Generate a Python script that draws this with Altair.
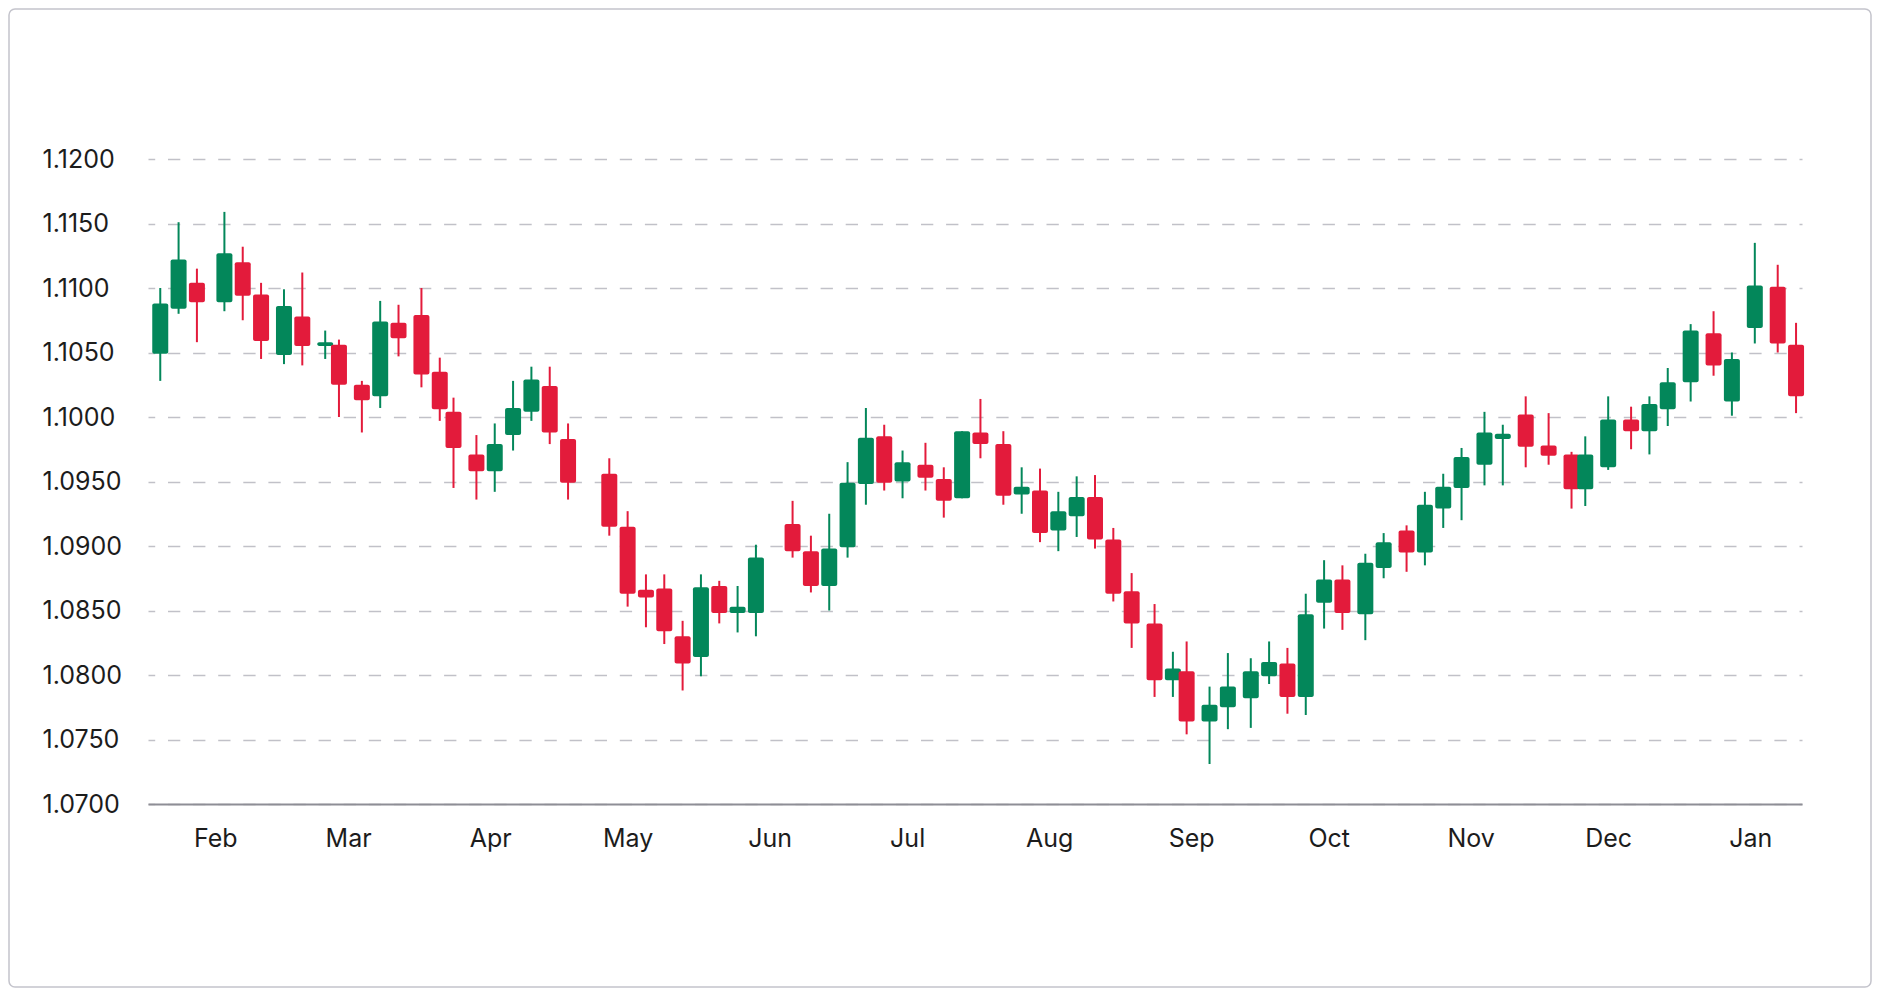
import altair as alt
import pandas as pd

# candle data (one row per candle)
dates = [
    "2024-01-20", "2024-01-24", "2024-01-28",
    "2024-02-03", "2024-02-07", "2024-02-11", "2024-02-16", "2024-02-20", "2024-02-25", "2024-02-28",
    "2024-03-04", "2024-03-08", "2024-03-12", "2024-03-17", "2024-03-21", "2024-03-24", "2024-03-29",
    "2024-04-02", "2024-04-06", "2024-04-10", "2024-04-14", "2024-04-18", "2024-04-27",
    "2024-05-01", "2024-05-05", "2024-05-09", "2024-05-13", "2024-05-17", "2024-05-21", "2024-05-25", "2024-05-29",
    "2024-06-06", "2024-06-10", "2024-06-14", "2024-06-18", "2024-06-22", "2024-06-26", "2024-06-30",
    "2024-07-05", "2024-07-09", "2024-07-13", "2024-07-17", "2024-07-22", "2024-07-26", "2024-07-30",
    "2024-08-03", "2024-08-07", "2024-08-11", "2024-08-15", "2024-08-19", "2024-08-24", "2024-08-28", "2024-08-31",
    "2024-09-05", "2024-09-09", "2024-09-14", "2024-09-18", "2024-09-22", "2024-09-26", "2024-09-30",
    "2024-10-04", "2024-10-09", "2024-10-13", "2024-10-18", "2024-10-22", "2024-10-26", "2024-10-30",
    "2024-11-04", "2024-11-08", "2024-11-13", "2024-11-18", "2024-11-23", "2024-11-26",
    "2024-12-01", "2024-12-06", "2024-12-10", "2024-12-14", "2024-12-19", "2024-12-24", "2024-12-28",
    "2025-01-02", "2025-01-07", "2025-01-11",
]
opens = [
    1.1049, 1.1084, 1.1104,
    1.1089, 1.1120, 1.1095, 1.1048, 1.1078, 1.1055, 1.1056,
    1.1025, 1.1016, 1.1073, 1.1079, 1.1035, 1.1004, 1.0971,
    1.0958, 1.0986, 1.1004, 1.1024, 1.0983, 1.0956,
    1.0915, 1.0866, 1.0867, 1.0830, 1.0814, 1.0869, 1.0848, 1.0848,
    1.0917, 1.0896, 1.0869, 1.0899, 1.0948, 1.0985, 1.0950,
    1.0963, 1.0952, 1.0937, 1.0988, 1.0979, 1.0940, 1.0943,
    1.0912, 1.0923, 1.0938, 1.0905, 1.0865, 1.0840, 1.0796, 1.0803,
    1.0764, 1.0775, 1.0782, 1.0799, 1.0809, 1.0783, 1.0856,
    1.0874, 1.0847, 1.0883, 1.0912, 1.0895, 1.0929, 1.0945,
    1.0963, 1.0983, 1.1002, 1.0978, 1.0971, 1.0944,
    1.0961, 1.0998, 1.0989, 1.1006, 1.1027, 1.1065, 1.1012,
    1.1069, 1.1101, 1.1056,
]
highs = [
    1.1100, 1.1151, 1.1115,
    1.1159, 1.1132, 1.1104, 1.1099, 1.1112, 1.1067, 1.1060,
    1.1028, 1.1090, 1.1087, 1.1100, 1.1046, 1.1015, 1.0986,
    1.0995, 1.1028, 1.1039, 1.1039, 1.0995, 1.0968,
    1.0927, 1.0878, 1.0878, 1.0842, 1.0878, 1.0873, 1.0869, 1.0901,
    1.0935, 1.0908, 1.0925, 1.0965, 1.1007, 1.0994, 1.0974,
    1.0980, 1.0961, 1.0989, 1.1014, 1.0989, 1.0961, 1.0960,
    1.0942, 1.0954, 1.0955, 1.0914, 1.0879, 1.0855, 1.0818, 1.0826,
    1.0791, 1.0817, 1.0813, 1.0826, 1.0821, 1.0863, 1.0889,
    1.0885, 1.0894, 1.0910, 1.0916, 1.0942, 1.0956, 1.0976,
    1.1004, 1.0994, 1.1016, 1.1003, 1.0973, 1.0985,
    1.1016, 1.1008, 1.1016, 1.1038, 1.1072, 1.1082, 1.1050,
    1.1135, 1.1118, 1.1073,
]
lows = [
    1.1028, 1.1080, 1.1058,
    1.1082, 1.1075, 1.1045, 1.1041, 1.1040, 1.1045, 1.1000,
    1.0988, 1.1007, 1.1047, 1.1023, 1.0997, 1.0945, 1.0936,
    1.0942, 1.0974, 1.0997, 1.0979, 1.0936, 1.0908,
    1.0853, 1.0837, 1.0824, 1.0788, 1.0799, 1.0840, 1.0833, 1.0830,
    1.0891, 1.0864, 1.0850, 1.0891, 1.0932, 1.0943, 1.0937,
    1.0943, 1.0922, 1.0937, 1.0968, 1.0932, 1.0925, 1.0903,
    1.0896, 1.0907, 1.0898, 1.0857, 1.0821, 1.0783, 1.0783, 1.0754,
    1.0731, 1.0758, 1.0759, 1.0793, 1.0770, 1.0769, 1.0836,
    1.0835, 1.0827, 1.0875, 1.0880, 1.0885, 1.0914, 1.0920,
    1.0947, 1.0947, 1.0961, 1.0963, 1.0929, 1.0931,
    1.0959, 1.0975, 1.0971, 1.0993, 1.1012, 1.1032, 1.1001,
    1.1057, 1.1050, 1.1003,
]
closes = [
    1.1088, 1.1122, 1.1089,
    1.1127, 1.1094, 1.1059, 1.1086, 1.1055, 1.1058, 1.1025,
    1.1013, 1.1074, 1.1061, 1.1033, 1.1006, 1.0976, 1.0958,
    1.0979, 1.1007, 1.1029, 1.0988, 1.0949, 1.0915,
    1.0863, 1.0860, 1.0834, 1.0809, 1.0868, 1.0848, 1.0853, 1.0891,
    1.0896, 1.0869, 1.0898, 1.0949, 1.0984, 1.0949, 1.0965,
    1.0953, 1.0935, 1.0989, 1.0979, 1.0939, 1.0946, 1.0910,
    1.0927, 1.0938, 1.0905, 1.0863, 1.0840, 1.0796, 1.0805, 1.0764,
    1.0777, 1.0791, 1.0803, 1.0810, 1.0783, 1.0847, 1.0874,
    1.0848, 1.0887, 1.0903, 1.0895, 1.0932, 1.0946, 1.0969,
    1.0988, 1.0987, 1.0977, 1.0970, 1.0944, 1.0971,
    1.0998, 1.0989, 1.1010, 1.1027, 1.1067, 1.1040, 1.1045,
    1.1102, 1.1057, 1.1016,
]

y_ticks = [1.07, 1.075, 1.08, 1.085, 1.09, 1.095, 1.10, 1.105, 1.11, 1.115, 1.12]
month_ticks = [(2024, m) for m in range(2, 13)] + [(2025, 1)]

GREEN = "#03875a"
RED = "#e31b3b"
FONT = "Inter"

candles = pd.DataFrame({
    "date": dates, "open": opens, "high": highs, "low": lows, "close": closes,
})

x_enc = alt.X(
    "date:T",
    title=None,
    scale=alt.Scale(
        type="utc",
        domain=[
            alt.DateTime(year=2024, month=1, date=18, hours=10, utc=True),
            alt.DateTime(year=2025, month=1, date=11, hours=5, utc=True),
        ],
    ),
    axis=alt.Axis(
        values=[alt.DateTime(year=yr, month=m, date=1, utc=True) for yr, m in month_ticks],
        labelExpr="utcFormat(datum.value, '%b')",
        labelFont=FONT,
        labelFontSize=25,
        labelColor="#1c1c1c",
        labelPadding=22,
        labelFlush=False,
        labelOverlap=False,
        ticks=False,
        tickSize=0,
        grid=False,
        domainColor="#8e8e96",
        domainWidth=2,
    ),
)

y_scale = alt.Scale(domain=[1.07, 1.12], nice=False, zero=False)

base = alt.Chart(candles).transform_calculate(
    dir="datum.close >= datum.open ? 'up' : 'down'"
).encode(
    x=x_enc,
    color=alt.Color(
        "dir:N",
        scale=alt.Scale(domain=["up", "down"], range=[GREEN, RED]),
        legend=None,
    ),
)

wicks = base.mark_rule(strokeWidth=2).encode(
    y=alt.Y(
        "low:Q",
        title=None,
        scale=y_scale,
        axis=alt.Axis(
            values=y_ticks,
            format=".4f",
            labelFont=FONT,
            labelFontSize=25,
            labelColor="#1c1c1c",
            labelAlign="left",
            labelPadding=106,
            labelFlush=False,
            ticks=False,
            tickSize=0,
            domain=False,
            gridColor="#c1c1c8",
            gridWidth=1.3,
            gridDash=[12.3, 12.8],
            gridDashOffset=5.6,
        ),
    ),
    y2="high:Q",
)

bodies = base.mark_bar(size=16, cornerRadius=2).encode(
    y=alt.Y("open:Q", scale=y_scale),
    y2="close:Q",
)

# light outline round the whole card
frame = alt.Chart(pd.DataFrame({"k": [0]})).mark_rect(
    fill=None, stroke="#c4c4cc", strokeWidth=1.5, cornerRadius=6
).encode(
    x=alt.value(-139),
    x2=alt.value(1723),
    y=alt.value(-150),
    y2=alt.value(828),
)

chart = alt.layer(wicks, bodies, frame).properties(
    width=1654,
    height=645,
    autosize=alt.AutoSizeParams(type="none"),
    padding={"left": 140, "top": 151, "right": 70, "bottom": 184},
).configure_view(stroke=None)

chart.save("out.html", embed_options={"renderer": "svg", "actions": False})
